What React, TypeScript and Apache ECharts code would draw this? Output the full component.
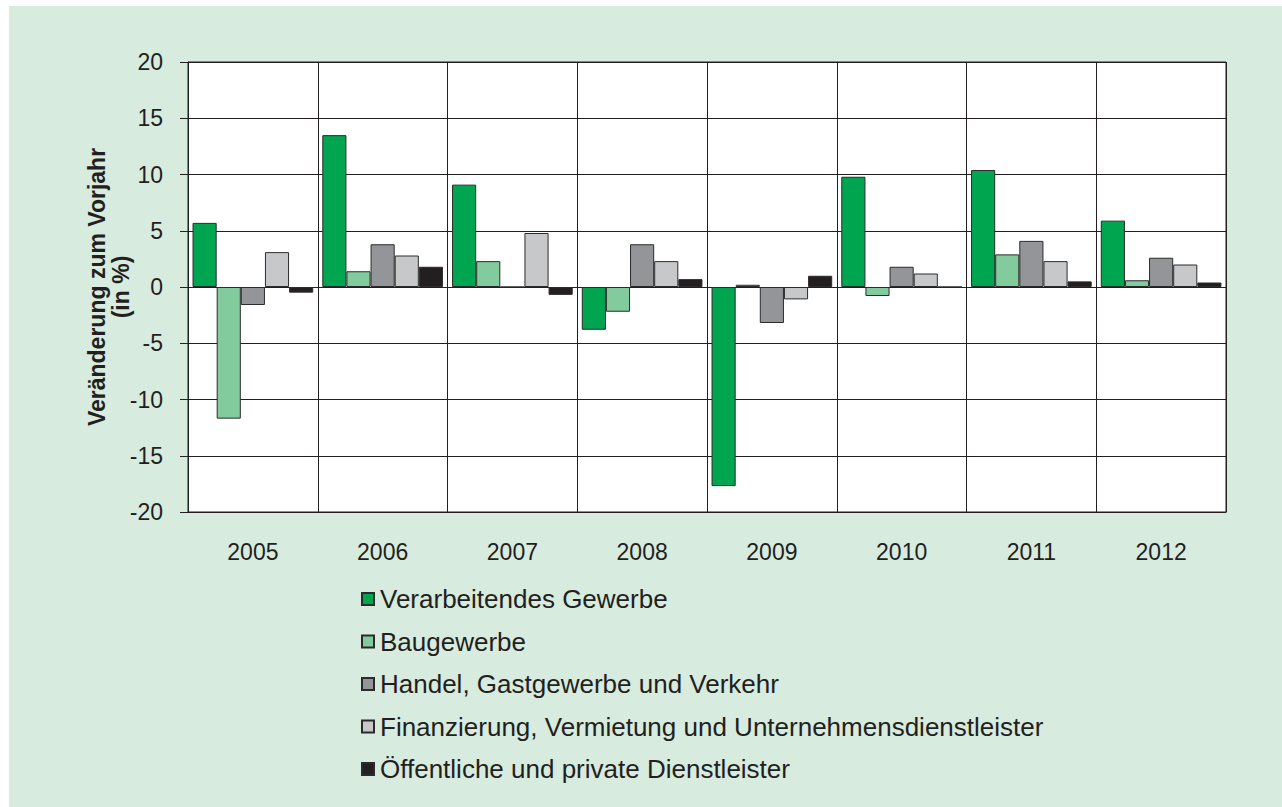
import React, { useEffect, useRef } from "react";
import * as echarts from "echarts";

const years = ["2005", "2006", "2007", "2008", "2009", "2010", "2011", "2012"];
const seriesNames = [
  "Verarbeitendes Gewerbe",
  "Baugewerbe",
  "Handel, Gastgewerbe und Verkehr",
  "Finanzierung, Vermietung und Unternehmensdienstleister",
  "Öffentliche und private Dienstleister",
];
const verarbeitendes = [5.7, 13.5, 9.1, -3.8, -17.7, 9.8, 10.4, 5.9];
const baugewerbe = [-11.7, 1.4, 2.3, -2.2, 0.2, -0.8, 2.9, 0.6];
const handel = [-1.6, 3.8, 0.0, 3.8, -3.2, 1.8, 4.1, 2.6];
const finanzierung = [3.1, 2.8, 4.8, 2.3, -1.1, 1.2, 2.3, 2.0];
const oeffentliche = [-0.5, 1.8, -0.7, 0.7, 1.0, 0.0, 0.5, 0.4];
const seriesData = [verarbeitendes, baugewerbe, handel, finanzierung, oeffentliche];
const colors = ["#00a54f", "#82cb9c", "#939598", "#c7c8ca", "#231f20"];
const yTitle1 = "Veränderung zum Vorjahr";
const yTitle2 = "(in %)";

const FONT = "'Liberation Sans', Arial, Helvetica, sans-serif";
const TXT = "#231f20";

export default function App() {
  const ref = useRef<HTMLDivElement>(null);
  useEffect(() => {
    if (!ref.current) return;
    const chart = echarts.init(ref.current, undefined, { renderer: "svg" });
    chart.setOption({
      animation: false,
      backgroundColor: "transparent",
      textStyle: { fontFamily: FONT, color: TXT },
      grid: {
        left: 188,
        right: 56,
        top: 62,
        bottom: 295,
        show: true,
        borderColor: TXT,
        borderWidth: 1,
        backgroundColor: "#ffffff",
      },
      legend: {
        orient: "vertical",
        left: 361,
        top: 586,
        padding: 0,
        itemWidth: 12,
        itemHeight: 12,
        itemGap: 16.5,
        icon: "rect",
        data: seriesNames,
        textStyle: { fontFamily: FONT, fontSize: 26, color: TXT, padding: [0, 0, 0, 1] },
      },
      xAxis: {
        type: "category",
        data: years,
        axisLine: { onZero: false, lineStyle: { color: TXT, width: 1 } },
        axisTick: { show: false },
        splitLine: { show: true, lineStyle: { color: TXT, width: 1 } },
        axisLabel: { color: TXT, fontSize: 23, fontFamily: FONT, margin: 28 },
      },
      yAxis: {
        type: "value",
        min: -20,
        max: 20,
        interval: 5,
        axisLine: { show: true, lineStyle: { color: TXT, width: 1 } },
        axisTick: { show: true, length: 8, lineStyle: { color: TXT } },
        splitLine: { show: true, lineStyle: { color: TXT, width: 1 } },
        axisLabel: { color: TXT, fontSize: 23, fontFamily: FONT, margin: 25 },
      },
      graphic: [
        {
          type: "text",
          x: 97,
          y: 287,
          rotation: Math.PI / 2,
          style: {
            text: yTitle1,
            font: `bold 23px ${FONT}`,
            fill: TXT,
            align: "center",
            verticalAlign: "middle",
          },
        },
        {
          type: "text",
          x: 121,
          y: 287,
          rotation: Math.PI / 2,
          style: {
            text: yTitle2,
            font: `bold 23px ${FONT}`,
            fill: TXT,
            align: "center",
            verticalAlign: "middle",
          },
        },
      ],
      series: seriesNames.map((name, i) => ({
        name,
        type: "bar",
        data: seriesData[i],
        barGap: "0%",
        barCategoryGap: "7%",
        itemStyle: { color: colors[i], borderColor: "#2b2b2b", borderWidth: 1 },
      })),
    });
    return () => chart.dispose();
  }, []);
  return (
    <div style={{ position: "absolute", left: 0, top: 0, width: 1282, height: 807, background: "#ffffff" }}>
      <div style={{ position: "absolute", left: 9, top: 6, right: 0, bottom: 0, background: "#d7ebdf" }} />
      <div ref={ref} style={{ position: "absolute", left: 0, top: 0, width: 1282, height: 807 }} />
    </div>
  );
}
